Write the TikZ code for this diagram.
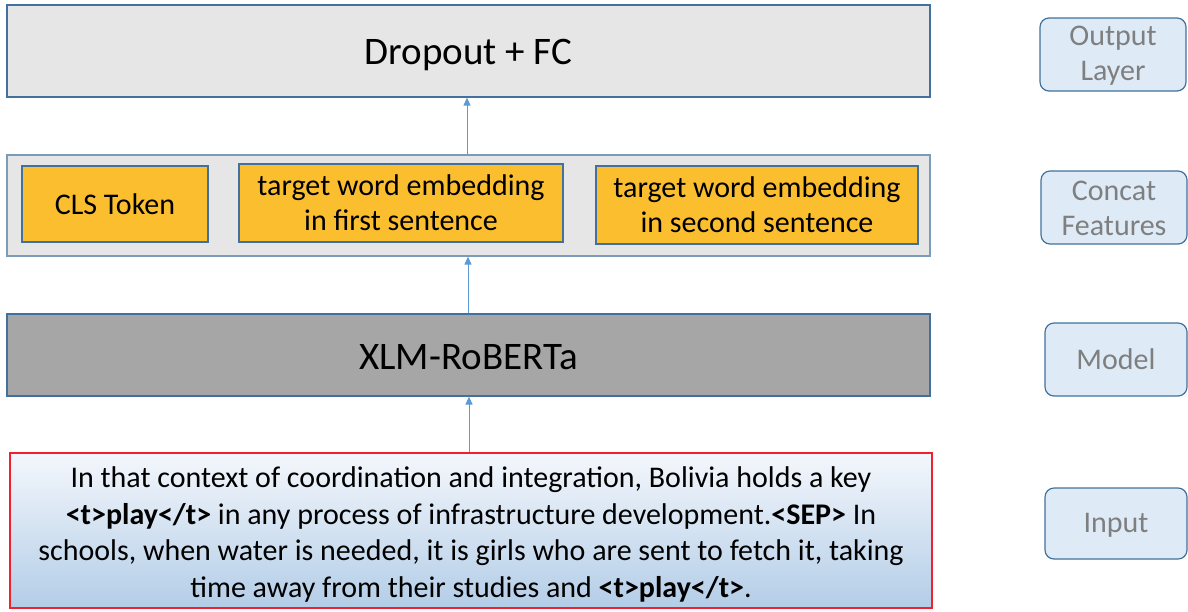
\documentclass[tikz,border=0pt]{standalone}
\usepackage{fontspec}
\setmainfont{Carlito}
\usetikzlibrary{arrows.meta}
\definecolor{bordblue}{HTML}{41719C}
\definecolor{arrblue}{HTML}{5B9BD5}
\definecolor{lightgray}{HTML}{E7E6E6}
\definecolor{midgray}{HTML}{A6A6A6}
\definecolor{amber}{HTML}{FBBE2E}
\definecolor{sidefill}{HTML}{DEEBF7}
\definecolor{sidetext}{HTML}{7F7F7F}
\definecolor{inred}{HTML}{F0202E}
\definecolor{gradtop}{HTML}{F4F7FC}
\definecolor{gradbot}{HTML}{B3CDE7}
\tikzset{
  layerbox/.style={draw=bordblue, line width=1.2pt, inner sep=0pt},
  featbox/.style={draw=bordblue, line width=1.2pt, fill=amber, inner sep=0pt, align=center, font=\fontsize{30}{35}\selectfont},
  sidebox/.style={draw=bordblue, line width=1.2pt, fill=sidefill, rounded corners=9pt, inner sep=0pt, align=center, text=sidetext, font=\fontsize{30}{35}\selectfont},
  sidelabel/.style={align=center, text=sidetext, font=\fontsize{30}{35}\selectfont},
  bigtext/.style={font=\fontsize{39}{44}\selectfont},
  flow/.style={draw=arrblue, line width=1pt, -{Triangle[length=8pt,width=7pt]}},
}
\begin{document}
\begin{tikzpicture}[x=1pt,y=-1pt]
\useasboundingbox (0,0) rectangle (1188,611);
% output layer
\node[layerbox, fill=lightgray, minimum width=923pt, minimum height=92pt] (out) at (468.5,51) {};
\node[bigtext] (outtext) at ([yshift=-4pt]out.center) {Dropout + FC};
% concat
\node[layerbox, fill=lightgray, draw=bordblue!70, minimum width=923pt, minimum height=101pt] (cat) at (468.5,205.5) {};
\node[featbox, minimum width=186pt, minimum height=76pt] (cls) at (115,204) {CLS Token};
\node[featbox, minimum width=324pt, minimum height=78pt] (tw1) at (401,203) {target word embedding\\in first sentence};
\node[featbox, minimum width=322pt, minimum height=78pt] (tw2) at (757,205) {target word embedding\\in second sentence};
% model
\node[layerbox, fill=midgray, minimum width=923pt, minimum height=82pt] (mod) at (468.5,355) {};
\node[bigtext] (modtext) at ([yshift=-2pt]mod.center) {XLM-RoBERTa};
% input
\node[draw=inred, line width=1.2pt, top color=gradtop, bottom color=gradbot, minimum width=922pt, minimum height=155pt, inner sep=0pt] (inp) at (471,530.5) {};
\node[align=center, font=\fontsize{30}{36.6}\selectfont] (inptext) at ([yshift=-4pt]inp.center) {In that context of coordination and integration, Bolivia holds a key\\
\textbf{<t>play</t>} in any process of infrastructure development.\textbf{<SEP>} In\\
schools, when water is needed, it is girls who are sent to fetch it, taking\\
time away from their studies and \textbf{<t>play</t>}.};
% arrows
\draw[flow] (inp.north -| 469,0) -- (mod.south -| 469,0);
\draw[flow] (mod.north -| 468,0) -- (cat.south -| 468,0);
\draw[flow] (cat.north -| 467,0) -- (out.south -| 467,0);
% side labels
\node[sidebox, minimum width=146pt, minimum height=73pt] (sout) at (1113,54.5) {};
\node[sidelabel] (souttext) at ([yshift=-1.5pt]sout.center) {Output\\Layer};
\node[sidebox, minimum width=146pt, minimum height=73pt] (scat) at (1114,207.5) {};
\node[sidelabel] (scattext) at ([yshift=-1pt]scat.center) {Concat\\Features};
\node[sidebox, minimum width=142pt, minimum height=73pt] (smod) at (1116,359.5) {Model};
\node[sidebox, minimum width=142pt, minimum height=71pt] (sinp) at (1116,523.5) {};
\node[sidelabel] (sinptext) at ([yshift=-2pt]sinp.center) {Input};
\end{tikzpicture}
\end{document}
